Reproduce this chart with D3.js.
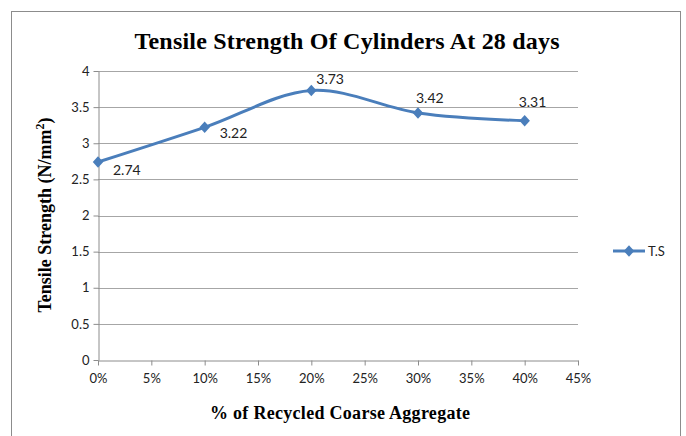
<!DOCTYPE html>
<html>
<head>
<meta charset="utf-8">
<script src="https://cdn.jsdelivr.net/npm/d3@7"></script>
<style>
  body { margin: 0; background: #fff; }
  svg { display: block; }
</style>
</head>
<body>
<svg class="chart" width="686" height="436"></svg>
<script>
// datos
var pct = [0, 10, 20, 30, 40];
var ts = [2.74, 3.22, 3.73, 3.42, 3.31];
var xTicks = [0, 5, 10, 15, 20, 25, 30, 35, 40, 45];
var yTicks = [0, 0.5, 1, 1.5, 2, 2.5, 3, 3.5, 4];
var seriesName = "T.S";

// desplazamiento de cada etiqueta respecto a su punto
var labelDx = [15, 15, 5, -2, -6];
var labelDy = [8, 6, -11, -15, -19];

var svg = d3.select(".chart");

// marco
svg.append("rect")
  .attr("x", 11.5).attr("y", 11.5)
  .attr("width", 669).attr("height", 440)
  .attr("fill", "#fff")
  .attr("stroke", "#8c8c8c");

var x = d3.scaleLinear().domain([0, 45]).range([98, 578]);
var y = d3.scaleLinear().domain([0, 4]).range([360, 71]);

// lineas de cuadricula
svg.append("g")
  .selectAll("line")
  .data(yTicks.slice(1))
  .enter()
    .append("line")
      .attr("x1", x(0)).attr("x2", x(45))
      .attr("y1", d => Math.round(y(d)) + 0.5)
      .attr("y2", d => Math.round(y(d)) + 0.5)
      .attr("stroke", "#a6a6a6");

var xAxis = svg.append("g")
  .attr("transform", "translate(0," + (Math.round(y(0)) + 0.5) + ")")
  .call(d3.axisBottom(x).tickValues(xTicks).tickSize(5).tickSizeOuter(0).tickFormat(d => d + "%"));
xAxis.select(".domain").attr("stroke", "#8c8c8c");
xAxis.selectAll(".tick line").attr("stroke", "#8c8c8c");
xAxis.selectAll("text")
  .attr("dy", "1.15em")
  .attr("font-family", "Lato, sans-serif")
  .attr("font-size", 13)
  .attr("fill", "#222");

var yAxis = svg.append("g")
  .attr("transform", "translate(" + (Math.round(x(0)) + 0.5) + ",0)")
  .call(d3.axisLeft(y).tickValues(yTicks).tickSize(5).tickSizeOuter(0).tickFormat(d => d));
yAxis.select(".domain").attr("stroke", "#8c8c8c");
yAxis.selectAll(".tick line").attr("stroke", "#8c8c8c");
yAxis.selectAll("text")
  .attr("x", -9)
  .attr("font-family", "Lato, sans-serif")
  .attr("font-size", 13)
  .attr("fill", "#222");

// linea suavizada
var line = d3.line()
  .x((d, i) => x(pct[i]))
  .y(d => y(d))
  .curve(d3.curveCardinal.tension(0));

svg.append("path")
  .datum(ts)
  .attr("d", line)
  .attr("fill", "none")
  .attr("stroke", "#4a7ebb")
  .attr("stroke-width", 3);

var diamond = d3.symbol().type(d3.symbolDiamond2).size(70);

svg.selectAll(".pt")
  .data(ts)
  .enter()
    .append("path")
      .attr("class", "pt")
      .attr("d", diamond)
      .attr("transform", (d, i) => "translate(" + x(pct[i]) + "," + y(d) + ") scale(1,1.1)")
      .attr("fill", "#4a7ebb");

svg.selectAll(".lbl")
  .data(ts)
  .enter()
    .append("text")
      .attr("class", "lbl")
      .attr("x", (d, i) => x(pct[i]) + labelDx[i])
      .attr("y", (d, i) => y(d) + labelDy[i])
      .attr("dy", "0.35em")
      .attr("font-family", "Lato, sans-serif")
      .attr("font-size", 14)
      .attr("fill", "#222")
      .text(d => d.toFixed(2));

// titulos
svg.append("text")
  .attr("x", 347).attr("y", 49)
  .attr("text-anchor", "middle")
  .attr("font-family", "'Liberation Serif', serif")
  .attr("font-weight", "bold")
  .attr("font-size", 24)
  .attr("textLength", 425)
  .text("Tensile Strength Of Cylinders At 28 days");

svg.append("text")
  .attr("x", 340).attr("y", 419)
  .attr("text-anchor", "middle")
  .attr("font-family", "'Liberation Serif', serif")
  .attr("font-weight", "bold")
  .attr("font-size", 18)
  .attr("textLength", 260)
  .text("% of Recycled Coarse Aggregate");

var yt = svg.append("text")
  .attr("transform", "translate(51,215) rotate(-90)")
  .attr("text-anchor", "middle")
  .attr("font-family", "'Liberation Serif', serif")
  .attr("font-weight", "bold")
  .attr("font-size", 18);
yt.append("tspan").text("Tensile Strength (N/mm");
yt.append("tspan").attr("font-size", 12).attr("dy", -7).text("2");
yt.append("tspan").attr("dy", 7).text(")");

// leyenda
var lg = svg.append("g").attr("transform", "translate(613,251)");
lg.append("line")
  .attr("x1", 0).attr("x2", 32)
  .attr("stroke", "#4a7ebb").attr("stroke-width", 3);
lg.append("path")
  .attr("d", diamond)
  .attr("transform", "translate(16,0) scale(1,1.1)")
  .attr("fill", "#4a7ebb");
lg.append("text")
  .attr("x", 35).attr("dy", "0.35em")
  .attr("font-family", "Lato, sans-serif")
  .attr("font-size", 13)
  .attr("fill", "#222")
  .text(seriesName);
</script>
</body>
</html>
